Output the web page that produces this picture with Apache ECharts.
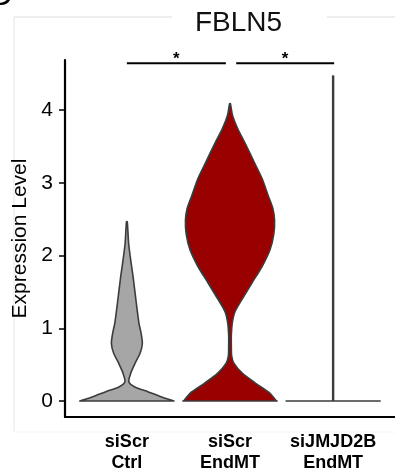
<!DOCTYPE html>
<html>
<head>
<meta charset="utf-8">
<script src="https://cdn.jsdelivr.net/npm/echarts@6/dist/echarts.min.js"></script>
<style>
  html, body { margin: 0; padding: 0; background: #fff; }
  #violin { width: 395px; height: 476px; }
</style>
</head>
<body>
<div id="violin"></div>
<script>
// ---------- FBLN5 violin ----------
var categories = ['siScr\nCtrl', 'siScr\nEndMT', 'siJMJD2B\nEndMT'];
var yTicks = [0, 1, 2, 3, 4];

// density outline per group: [expression level, half width in category units]
var ctrlProfile = [
    [0, 0.456], [0.004, 0.447], [0.06, 0.33], [0.128, 0.204], [0.197, 0.073],
    [0.265, 0.019], [0.38, 0.037], [0.52, 0.080], [0.66, 0.129], [0.79, 0.150],
    [0.93, 0.138], [1.07, 0.117], [1.25, 0.100], [1.48, 0.080], [1.71, 0.060],
    [1.94, 0.037], [2.17, 0.017], [2.465, 0.004]
];
var endmtProfile = [
    [0, 0.456], [0.004, 0.447], [0.106, 0.388], [0.24, 0.252], [0.38, 0.121],
    [0.52, 0.037], [0.62, 0.016], [0.75, 0.013], [0.9, 0.013], [1.07, 0.022],
    [1.23, 0.049], [1.39, 0.113], [1.62, 0.211], [1.85, 0.311], [2.08, 0.388],
    [2.3, 0.425], [2.49, 0.432], [2.65, 0.415], [2.83, 0.369], [3.06, 0.311],
    [3.29, 0.233], [3.52, 0.155], [3.75, 0.073], [3.93, 0.024], [4.09, 0.004]
];
var jmjdProfile = [
    [0, 0.456], [0.004, 0.004], [4.47, 0.004]
];
var profiles = [ctrlProfile, endmtProfile, jmjdProfile];
var fillColors = ['#a6a6a6', '#990000', '#ffffff'];

// significance brackets: [from, to], level, label
var sigFrom = [1, 2.06];
var sigTo = [1.96, 3.01];
var sigLevel = 4.646;
var sigLabels = ['*', '*'];

var chart = echarts.init(document.getElementById('violin'));

var violinData = categories.map(function (c, i) { return [i + 1, 0]; });
var sigData = sigFrom.map(function (f, i) { return [f, sigLevel, sigTo[i]]; });

var option = {
    backgroundColor: '#fff',
    animation: false,
    title: {
        text: 'FBLN5',
        left: 190,
        top: 4,
        textStyle: {
            fontFamily: 'Liberation Sans',
            fontSize: 28,
            fontWeight: 'normal',
            color: '#111'
        }
    },
    graphic: [
        { type: 'line', shape: { x1: 14, y1: 17, x2: 172, y2: 17 }, style: { stroke: '#dcdcdc', lineWidth: 1 } },
        { type: 'line', shape: { x1: 327, y1: 17, x2: 395, y2: 17 }, style: { stroke: '#dcdcdc', lineWidth: 1 } },
        { type: 'line', shape: { x1: 14, y1: 17, x2: 14, y2: 432 }, style: { stroke: '#e6e6e6', lineWidth: 1 } },
        { type: 'line', shape: { x1: 14, y1: 432, x2: 395, y2: 432 }, style: { stroke: '#f4f4f4', lineWidth: 1 } },
        { type: 'text', left: -10, top: -20, style: { text: 'D', fontFamily: 'Liberation Sans', fontSize: 32, fill: '#000' } }
    ],
    grid: {
        left: 65,
        right: 0,
        top: 60,
        bottom: 59
    },
    xAxis: {
        type: 'value',
        min: 0.4,
        max: 3.6,
        splitLine: { show: false },
        axisLine: { onZero: false, lineStyle: { color: '#000', width: 2.2 } },
        axisTick: { show: false },
        axisLabel: {
            customValues: [1, 2, 3],
            margin: 15,
            fontFamily: 'Liberation Sans',
            fontSize: 18,
            fontWeight: 'bold',
            lineHeight: 21,
            color: '#000',
            formatter: function (v) { return categories[Math.round(v) - 1]; }
        }
    },
    yAxis: {
        type: 'value',
        min: -0.22,
        max: 4.69,
        name: 'Expression Level',
        nameLocation: 'middle',
        nameGap: 26,
        nameTextStyle: {
            fontFamily: 'Liberation Sans',
            fontSize: 21,
            color: '#000'
        },
        splitLine: { show: false },
        axisLine: { onZero: false, lineStyle: { color: '#000', width: 2.2 } },
        axisTick: {
            customValues: yTicks,
            length: 6,
            lineStyle: { color: '#000', width: 1.5 }
        },
        axisLabel: {
            customValues: yTicks,
            margin: 12,
            fontFamily: 'Liberation Sans',
            fontSize: 21,
            color: '#000'
        }
    },
    series: [{
        type: 'custom',
        data: violinData,
        renderItem: function (params, api) {
            var g = api.value(0);
            var prof = profiles[g - 1];
            var pts = [];
            prof.forEach(function (p) { pts.push(api.coord([g + p[1], p[0]])); });
            for (var i = prof.length - 1; i >= 0; i--) {
                pts.push(api.coord([g - prof[i][1], prof[i][0]]));
            }
            return {
                type: 'polygon',
                shape: { points: pts, smooth: g === 3 ? 0 : 0.25 },
                style: { fill: fillColors[g - 1], stroke: '#3c3c3c', lineWidth: 1.6, lineJoin: 'round' }
            };
        }
    }, {
        type: 'custom',
        data: sigData,
        clip: false,
        renderItem: function (params, api) {
            var a = api.coord([api.value(0), api.value(1)]);
            var b = api.coord([api.value(2), api.value(1)]);
            return {
                type: 'group',
                children: [{
                    type: 'line',
                    shape: { x1: a[0], y1: a[1], x2: b[0], y2: b[1] },
                    style: { stroke: '#000', lineWidth: 2 }
                }, {
                    type: 'text',
                    x: (a[0] + b[0]) / 2,
                    y: a[1] + 5,
                    style: {
                        text: sigLabels[params.dataIndex],
                        fontFamily: 'Liberation Sans',
                        fontSize: 17,
                        fontWeight: 'bold',
                        fill: '#000',
                        align: 'center',
                        verticalAlign: 'bottom'
                    }
                }]
            };
        }
    }]
};

chart.setOption(option);
</script>
</body>
</html>
